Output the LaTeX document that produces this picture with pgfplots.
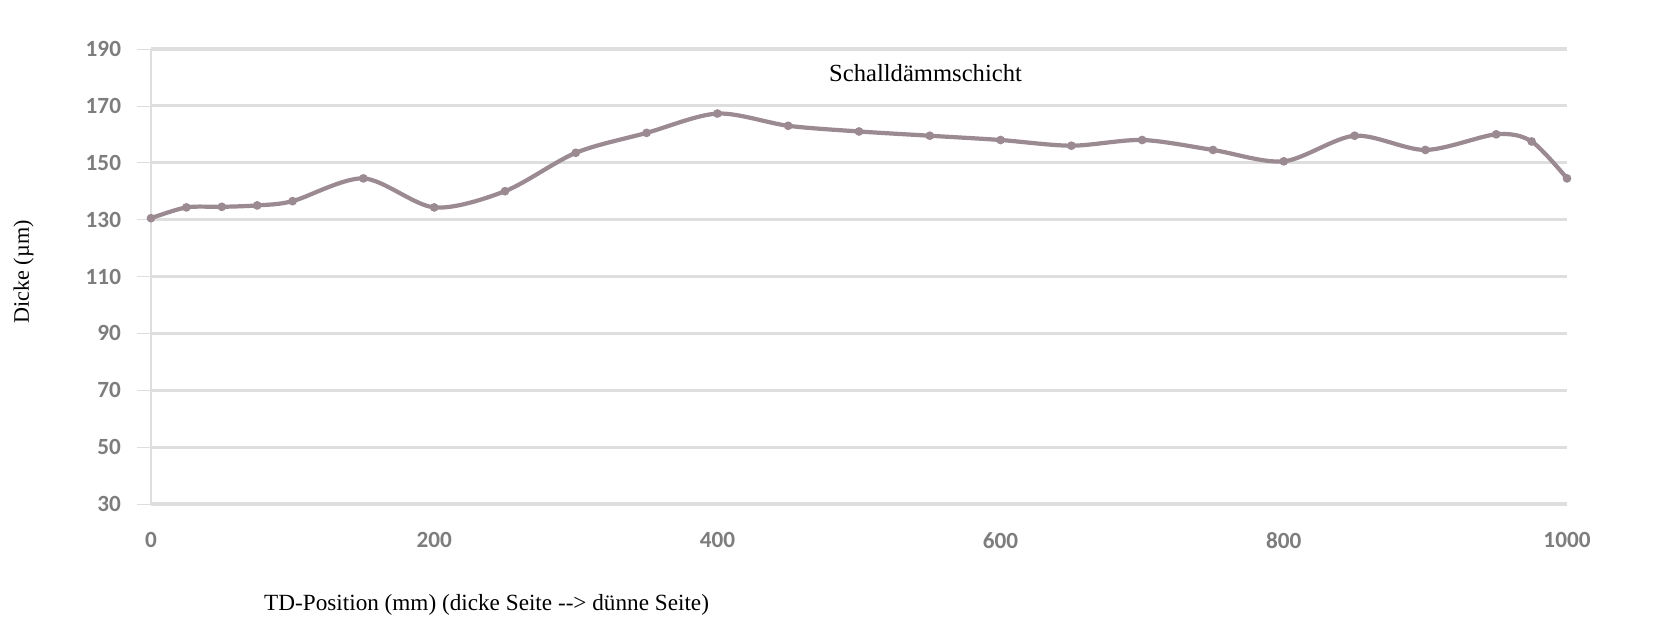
\documentclass[border=0pt]{standalone}
\usepackage{fontspec}
\setmainfont{Liberation Serif}
\newfontfamily\tickfont{Carlito}
\usepackage{pgfplots}
\pgfplotsset{compat=1.18}
\definecolor{curve}{RGB}{155,138,146}
\definecolor{gridc}{RGB}{222,222,222}
\definecolor{tickc}{RGB}{125,125,125}
\begin{document}
\begin{tikzpicture}
\useasboundingbox (-1.51,-1.25) rectangle (15.28,5.04);
\begin{axis}[
  at={(0,0)}, anchor=south west,
  scale only axis, width=14.16cm, height=4.55cm,
  xmin=0, xmax=1000, ymin=30, ymax=190,
  xtick={0,200,400,600,800,1000},
  ytick={30,50,70,90,110,130,150,170,190},
  axis x line=none,
  axis y line*=left,
  y axis line style={draw=gridc, line width=0.8pt},
  ymajorgrids, major grid style={draw=gridc, line width=0.9pt},
  major tick length=4pt,
  ytick style={draw=gridc},
  tick align=outside,
  ticklabel style={font=\tickfont\bfseries\fontsize{6.6}{8}\selectfont, text=tickc},
  /pgf/number format/assume math mode=true,
  yticklabel style={xshift=-1pt},
  ylabel={Dicke (µm)},
  ylabel style={at={(axis description cs:-0.09,0.51)}, anchor=center, font=\fontsize{6.3}{7}\selectfont},
  clip=false,
]
\addplot[curve, line width=1.2pt, smooth, tension=0.5, mark=*, mark size=0.6pt, mark options={fill=gray!80, draw=none}] coordinates {
(0,130.5) (25,134.3) (50,134.5) (75,135) (100,136.5) (150,144.5) (200,134.3)
(250,140) (300,153.5) (350,160.5) (400,167.3) (450,163) (500,161) (550,159.5)
(600,158) (650,156) (700,158) (750,154.5) (800,150.5) (850,159.5) (900,154.5)
(950,160) (975,157.5) (1000,144.5)
};
\node[font=\fontsize{7}{8}\selectfont] at (axis description cs:0.547,0.947) {Schalldämmschicht};
\end{axis}
\begin{axis}[
  at={(0,0)}, anchor=south west,
  scale only axis, width=14.16cm, height=4.55cm,
  xmin=0, xmax=1000, ymin=30, ymax=190,
  xtick={0,200,400,600,800,1000},
  axis y line=none, axis x line*=bottom,
  x axis line style={draw=none},
  xtick style={draw=none},
  ticklabel style={font=\tickfont\bfseries\fontsize{6.6}{8}\selectfont, text=tickc},
  /pgf/number format/assume math mode=true,
  /pgf/number format/1000 sep={},
  xticklabel style={yshift=-0.16cm},
  xlabel={TD-Position (mm) (dicke Seite \mbox{-}\mbox{-}> dünne Seite)},
  xlabel style={at={(axis description cs:0.237,0)}, anchor=center, yshift=-1.01cm, font=\fontsize{6.6}{8}\selectfont},
]
\addplot[draw=none] coordinates {(0,30) (1000,30)};
\end{axis}
\end{tikzpicture}
\end{document}
